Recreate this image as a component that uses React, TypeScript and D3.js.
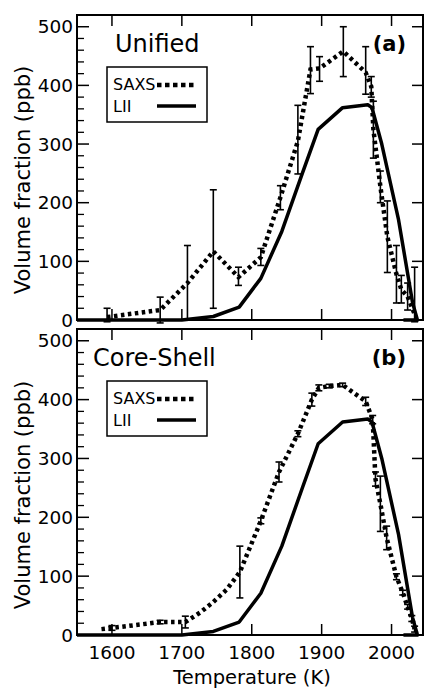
import React from 'react';
import * as d3 from 'd3';

// LII curve (same measurement in both panels)
const liiTemp = [1550, 1700, 1745, 1782, 1813, 1843, 1873, 1895, 1930, 1966, 1972, 1986, 2010, 2030, 2037, 2017];
const liiVal = [0, 0, 6, 22, 71, 151, 252, 325, 362, 367, 362, 300, 171, 30, 0, 0];

// (a) Unified fit
const uniTemp = [1593, 1669, 1708, 1745, 1781, 1813, 1841, 1866, 1884, 1897, 1931, 1963, 1971, 1974, 1984, 1994, 2007, 2014, 2023, 2033];
const uniVal = [5, 17, 63, 117, 73, 107, 209, 305, 427, 429, 458, 422, 398, 325, 228, 142, 78, 52, 40, 10];
const uniLo = [-3, -5, 0, 20, 59, 93, 188, 249, 386, 407, 415, 385, 380, 276, 200, 81, 29, 29, 17, -3];
const uniHi = [20, 39, 127, 222, 90, 122, 229, 366, 466, 449, 500, 466, 415, 373, 254, 203, 127, 76, 63, 90];

// (b) Core-Shell fit
const csTemp = [1585, 1600, 1669, 1705, 1726, 1744, 1764, 1783, 1813, 1839, 1866, 1886, 1896, 1911, 1930, 1963, 1973, 1977, 1984, 1993, 2007, 2016, 2023, 2029, 2033];
const csVal = [10, 12, 22, 22, 38, 55, 77, 107, 194, 277, 342, 400, 420, 423, 425, 397, 366, 265, 223, 165, 99, 72, 48, 28, 10];
const csErr = [0, 4, 3, 10, 0, 0, 0, 44, 5, 17, 5, 11, 5, 3, 3, 7, 7, 12, 47, 20, 5, 4, 4, 5, 5];

const xTicks = [1600, 1700, 1800, 1900, 2000];
const yTicks = [0, 100, 200, 300, 400, 500];

const FONT = 'DejaVu Sans';
const x = d3.scaleLinear().domain([1550, 2045]).range([77, 423]);

type Pt = { t: number; v: number; lo: number; hi: number };

function Panel({ top, bottom, title, tag, pts, labelY }: { top: number; bottom: number; title: string; tag: string; pts: Pt[]; labelY: number }) {
  const y = d3.scaleLinear().domain([0, 520]).range([bottom, top]);
  const line = d3.line<[number, number]>().x(d => x(d[0])).y(d => y(d[1]));
  const lii = line(liiTemp.map((t, i) => [t, liiVal[i]]));
  const saxs = line(pts.map(p => [p.t, p.v]));
  const [x0, x1] = x.range();
  const minor = d3.range(0, 520, 20).filter(v => v % 100 !== 0);
  const lg = { x: 107, y: top + 52 };
  return (
    <g>
      <path d={lii ?? ''} fill="none" stroke="#000" strokeWidth={3.5} strokeLinejoin="round" />
      <path d={saxs ?? ''} fill="none" stroke="#000" strokeWidth={4.5} strokeDasharray="3.5,3.5" />
      {pts.filter(p => p.hi - p.lo > 0).map((p, i) => (
        <g key={i} stroke="#000" strokeWidth={1.6}>
          <line x1={x(p.t)} x2={x(p.t)} y1={y(p.lo)} y2={y(p.hi)} />
          <line x1={x(p.t) - 3.5} x2={x(p.t) + 3.5} y1={y(p.lo)} y2={y(p.lo)} />
          <line x1={x(p.t) - 3.5} x2={x(p.t) + 3.5} y1={y(p.hi)} y2={y(p.hi)} />
        </g>
      ))}
      <rect x={x0} y={top} width={x1 - x0} height={bottom - top} fill="none" stroke="#000" strokeWidth={2} />
      {yTicks.map(v => (
        <g key={v}>
          <line x1={x0} x2={x0 + 12} y1={y(v)} y2={y(v)} stroke="#000" strokeWidth={1.5} />
          <line x1={x1} x2={x1 - 11} y1={y(v)} y2={y(v)} stroke="#000" strokeWidth={1.5} />
          <text x={x0 - 4} y={y(v)} dy="0.36em" textAnchor="end" fontFamily={FONT} fontSize={18.5}>{v}</text>
        </g>
      ))}
      {minor.map(v => (
        <line key={v} x1={x0} x2={x0 + 7} y1={y(v)} y2={y(v)} stroke="#000" strokeWidth={1.3} />
      ))}
      {xTicks.map(t => (
        <g key={t}>
          <line x1={x(t)} x2={x(t)} y1={bottom} y2={bottom - 11} stroke="#000" strokeWidth={1.5} />
          <line x1={x(t)} x2={x(t)} y1={top} y2={top + 11} stroke="#000" strokeWidth={1.5} />
        </g>
      ))}
      <text x={title === 'Unified' ? 115 : 93} y={top + 37} fontFamily={FONT} fontSize={24}>{title}</text>
      <text x={406} y={top + 36} textAnchor="end" fontFamily={FONT} fontSize={21} fontWeight="bold">{tag}</text>
      <rect x={lg.x} y={lg.y} width={100} height={55} fill="#fff" stroke="#000" strokeWidth={1.5} />
      <text x={lg.x + 6} y={lg.y + 23} fontFamily={FONT} fontSize={16}>SAXS</text>
      <line x1={lg.x + 50} x2={lg.x + 89} y1={lg.y + 18} y2={lg.y + 18} stroke="#000" strokeWidth={4.5} strokeDasharray="4.5,3.5" />
      <text x={lg.x + 6} y={lg.y + 45} fontFamily={FONT} fontSize={16}>LII</text>
      <line x1={lg.x + 50} x2={lg.x + 89} y1={lg.y + 39} y2={lg.y + 39} stroke="#000" strokeWidth={3.5} />
      <text transform={`translate(22,${labelY}) rotate(-90)`} textAnchor="middle" dy="0.36em" fontFamily={FONT} fontSize={21}>Volume fraction (ppb)</text>
    </g>
  );
}

export default function App() {
  const ptsA: Pt[] = uniTemp.map((t, i) => ({ t, v: uniVal[i], lo: uniLo[i], hi: uniHi[i] }));
  const ptsB: Pt[] = csTemp.map((t, i) => ({ t, v: csVal[i], lo: csVal[i] - csErr[i], hi: csVal[i] + csErr[i] }));
  return (
    <svg width={424} height={688} style={{ position: 'absolute', left: 0, top: 0, background: '#fff' }}>
      <Panel top={15} bottom={320} title="Unified" tag="(a)" pts={ptsA} labelY={180} />
      <Panel top={329} bottom={635} title="Core-Shell" tag="(b)" pts={ptsB} labelY={495} />
      {xTicks.map(t => (
        <text key={t} x={x(t)} y={652} dy="0.36em" textAnchor="middle" fontFamily={FONT} fontSize={18.5}>{t}</text>
      ))}
      <text x={252} y={677} dy="0.36em" textAnchor="middle" fontFamily={FONT} fontSize={19.5}>Temperature (K)</text>
    </svg>
  );
}
